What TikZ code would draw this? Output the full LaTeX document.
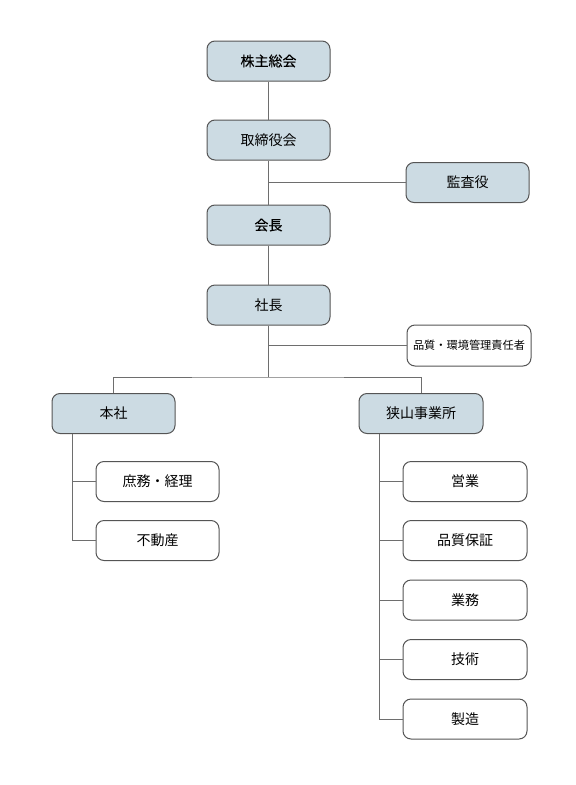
\documentclass[tikz,border=0pt]{standalone}
\usepackage{fontspec}
\usepackage{xcolor}
\usetikzlibrary{positioning}
\newfontfamily\jpfont{Noto Sans CJK JP}
\newfontfamily\jpheavy[FakeBold=0.25]{Noto Sans CJK JP}
\definecolor{boxblue}{RGB}{204,219,227}
\definecolor{boxline}{RGB}{85,85,85}
\definecolor{linkgray}{RGB}{110,110,110}

\begin{document}
\begin{tikzpicture}[
      x=1pt, y=-1pt,
      node distance=38pt and 76pt,
      box/.style={rounded corners=8pt, draw=boxline, line width=1pt, fill=boxblue, minimum width=123pt, minimum height=40pt, inner sep=0pt, align=center, font=\jpfont\fontsize{14}{16}\selectfont},
      topbox/.style={box, font=\jpheavy\fontsize{14}{16}\selectfont},
      sub/.style={box, fill=white},
      link/.style={draw=linkgray, line width=0.9pt}
    ]
      \useasboundingbox (0,0) rectangle (576,785);
      % top of the chart
      \node[topbox] (kabu) at (268.5,61) {株主総会};
      \node[box, below=38pt of kabu] (tori) {取締役会};
      \node[box] (kansa) at (467.5,182.5) {監査役};
      \node[topbox, below=44pt of tori] (kaicho) {会長};
      \node[box, below=39pt of kaicho] (shacho) {社長};
      \node[sub, minimum width=124pt, minimum height=41pt, font=\jpfont\fontsize{11.2}{13}\selectfont] (hinkan) at (469,345.5) {品質・環境管理責任者};
      \coordinate (bus) at (268.5,377);
      % two divisions
      \node[box] (honsha) at (113.5,413.5) {本社};
      \node[box, minimum width=124pt] (sayama) at (421,413.5) {狭山事業所};
      \node[sub, below=27pt of honsha, xshift=44pt] (shomu) {庶務・経理};
      \node[sub, below=18pt of shomu] (fudosan) {不動産};
      \node[sub, minimum width=124pt, below=27pt of sayama, xshift=44pt] (eigyo) {営業};
      \node[sub, minimum width=124pt, below=18pt of eigyo] (hinsho) {品質保証};
      \node[sub, minimum width=124pt, below=18.5pt of hinsho] (gyomu) {業務};
      \node[sub, minimum width=124pt, below=18.5pt of gyomu] (gijutsu) {技術};
      \node[sub, minimum width=124pt, below=18.5pt of gijutsu] (seizo) {製造};
      % connectors
      \draw[link] (kabu) -- (tori);
      \draw[link] (tori) -- (kaicho);
      \draw[link] (kansa.west) -- (kansa.west -| tori.south);
      \draw[link] (kaicho) -- (shacho);
      \draw[link] (shacho.south) -- (bus);
      \draw[link] (hinkan.west) -- (hinkan.west -| shacho.south);
      \draw[link] (honsha.north) |- (bus) -| (sayama.north);
      \draw[link] ([xshift=-41.5pt]honsha.south) |- (shomu.west);
      \draw[link] ([xshift=-41.5pt]honsha.south) |- (fudosan.west);
      \draw[link] ([xshift=-42pt]sayama.south) |- (eigyo.west);
      \draw[link] ([xshift=-42pt]sayama.south) |- (hinsho.west);
      \draw[link] ([xshift=-42pt]sayama.south) |- (gyomu.west);
      \draw[link] ([xshift=-42pt]sayama.south) |- (gijutsu.west);
      \draw[link] ([xshift=-42pt]sayama.south) |- (seizo.west);
    \end{tikzpicture}
\end{document}
